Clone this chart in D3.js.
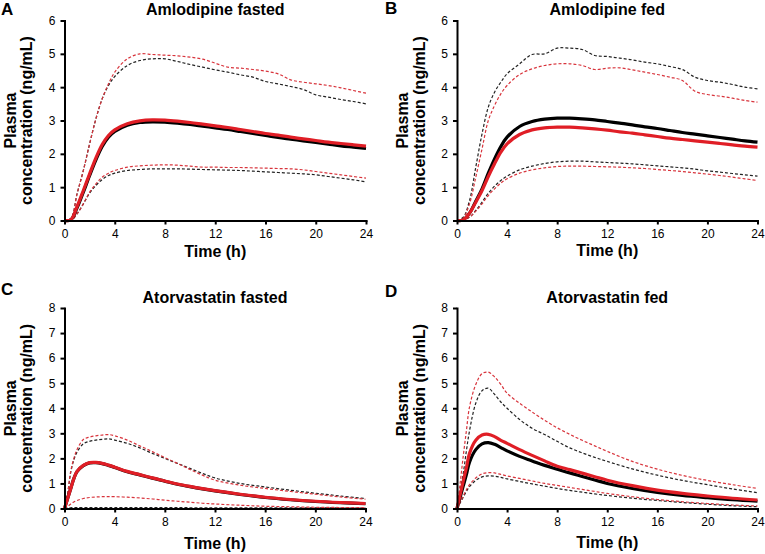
<!DOCTYPE html>
<html>
<head>
<meta charset="utf-8">
<script src="https://cdn.jsdelivr.net/npm/d3@7.9.0/dist/d3.min.js"></script>
<style>
  body { margin: 0; background: #fff; }
  svg { display: block; font-family: "Liberation Sans", Arial, sans-serif; }
</style>
</head>
<body>
<svg id="chart" width="765" height="554"></svg>
<script>
// sampling times (h)
const timeAmlo = [0, 0.5, 1, 1.5, 2, 2.5, 3, 3.5, 4, 5, 6, 7, 8, 9, 10, 11, 12, 13, 14, 15, 16, 17, 18, 19, 20, 21, 22, 23, 24];
const timeAtor = [0, 0.25, 0.5, 0.75, 1, 1.5, 2, 2.5, 3, 3.5, 4, 5, 6, 7, 8, 9, 10, 11, 12, 14, 16, 18, 20, 22, 24];

const xTicks = [0, 4, 8, 12, 16, 20, 24];
const yTicksAmlo = [0, 1, 2, 3, 4, 5, 6];
const yTicksAtor = [0, 1, 2, 3, 4, 5, 6, 7, 8];

// A: amlodipine fasted
const amloFastBlackMean = [0, 0.02, 0.38, 0.85, 1.35, 1.82, 2.22, 2.5, 2.67, 2.86, 2.94, 2.96, 2.95, 2.92, 2.88, 2.83, 2.78, 2.73, 2.67, 2.61, 2.55, 2.49, 2.44, 2.39, 2.34, 2.29, 2.24, 2.2, 2.16];
const amloFastBlackHi   = [0, 0.05, 0.8, 1.5, 2.3, 3.05, 3.65, 4.05, 4.32, 4.65, 4.8, 4.85, 4.85, 4.77, 4.68, 4.6, 4.52, 4.45, 4.37, 4.3, 4.17, 4.1, 4.02, 3.93, 3.77, 3.7, 3.63, 3.57, 3.5];
const amloFastBlackLo   = [0, 0, 0.2, 0.5, 0.82, 1.05, 1.23, 1.35, 1.42, 1.5, 1.53, 1.55, 1.55, 1.55, 1.54, 1.53, 1.52, 1.51, 1.5, 1.48, 1.46, 1.44, 1.42, 1.4, 1.37, 1.32, 1.27, 1.22, 1.16];
const amloFastRedMean   = [0, 0.02, 0.42, 0.9, 1.4, 1.88, 2.28, 2.55, 2.72, 2.9, 2.99, 3.02, 3.01, 2.98, 2.94, 2.89, 2.84, 2.79, 2.73, 2.67, 2.61, 2.56, 2.5, 2.45, 2.4, 2.35, 2.31, 2.27, 2.23];
const amloFastRedHi     = [0, 0.05, 0.8, 1.5, 2.3, 3.05, 3.65, 4.1, 4.45, 4.85, 5.0, 4.98, 4.96, 4.94, 4.9, 4.84, 4.72, 4.6, 4.57, 4.53, 4.48, 4.4, 4.22, 4.15, 4.1, 4.05, 3.98, 3.9, 3.82];
const amloFastRedLo     = [0, 0, 0.2, 0.5, 0.85, 1.1, 1.3, 1.42, 1.5, 1.6, 1.64, 1.66, 1.67, 1.66, 1.63, 1.6, 1.6, 1.59, 1.59, 1.58, 1.57, 1.56, 1.55, 1.52, 1.47, 1.42, 1.37, 1.32, 1.27];

// B: amlodipine fed
const amloFedBlackMean = [0, 0.02, 0.22, 0.58, 0.95, 1.42, 1.85, 2.22, 2.5, 2.82, 2.97, 3.04, 3.07, 3.07, 3.05, 3.02, 2.97, 2.92, 2.87, 2.81, 2.76, 2.7, 2.64, 2.59, 2.54, 2.49, 2.44, 2.39, 2.35];
const amloFedBlackHi   = [0, 0.1, 0.6, 1.6, 2.6, 3.4, 3.85, 4.15, 4.4, 4.7, 4.98, 5.0, 5.17, 5.17, 5.13, 4.95, 4.92, 4.87, 4.82, 4.75, 4.7, 4.62, 4.53, 4.3, 4.2, 4.15, 4.08, 4.0, 3.95];
const amloFedBlackLo   = [0, 0.02, 0.1, 0.3, 0.55, 0.82, 1.03, 1.2, 1.33, 1.52, 1.63, 1.71, 1.76, 1.78, 1.78, 1.76, 1.74, 1.72, 1.7, 1.67, 1.64, 1.61, 1.58, 1.54, 1.49, 1.45, 1.41, 1.37, 1.33];
const amloFedRedMean   = [0, 0.02, 0.22, 0.55, 0.9, 1.32, 1.7, 2.05, 2.3, 2.58, 2.72, 2.78, 2.8, 2.8, 2.78, 2.75, 2.71, 2.66, 2.62, 2.57, 2.52, 2.47, 2.43, 2.39, 2.35, 2.31, 2.27, 2.23, 2.2];
const amloFedRedHi     = [0, 0.08, 0.5, 1.3, 2.15, 3.0, 3.45, 3.8, 4.05, 4.38, 4.55, 4.65, 4.7, 4.7, 4.65, 4.53, 4.57, 4.58, 4.52, 4.45, 4.38, 4.3, 4.2, 3.88, 3.78, 3.73, 3.67, 3.6, 3.55];
const amloFedRedLo     = [0, 0.02, 0.1, 0.28, 0.5, 0.75, 0.95, 1.12, 1.25, 1.42, 1.52, 1.58, 1.62, 1.63, 1.63, 1.62, 1.61, 1.6, 1.58, 1.56, 1.53, 1.5, 1.47, 1.43, 1.39, 1.35, 1.3, 1.25, 1.2];

// C: atorvastatin fasted
const atorFastBlackMean = [0, 0.4, 0.8, 1.2, 1.47, 1.71, 1.82, 1.83, 1.79, 1.72, 1.64, 1.47, 1.34, 1.21, 1.09, 0.97, 0.87, 0.78, 0.7, 0.56, 0.44, 0.35, 0.28, 0.23, 0.19];
const atorFastBlackHi   = [0, 0.6, 1.45, 1.95, 2.25, 2.58, 2.68, 2.73, 2.76, 2.78, 2.73, 2.6, 2.42, 2.2, 2.0, 1.8, 1.6, 1.4, 1.22, 1.0, 0.86, 0.73, 0.61, 0.5, 0.4];
const atorFastBlackLo   = [0, 0.02, 0.03, 0.04, 0.04, 0.04, 0.04, 0.04, 0.04, 0.04, 0.04, 0.04, 0.04, 0.04, 0.04, 0.04, 0.03, 0.03, 0.03, 0.03, 0.03, 0.03, 0.03, 0.02, 0.02];
const atorFastRedMean   = [0, 0.4, 0.8, 1.2, 1.48, 1.72, 1.83, 1.84, 1.8, 1.73, 1.65, 1.48, 1.35, 1.22, 1.1, 0.98, 0.88, 0.79, 0.71, 0.57, 0.45, 0.36, 0.29, 0.24, 0.2];
const atorFastRedHi     = [0, 0.6, 1.5, 2.0, 2.35, 2.75, 2.85, 2.9, 2.93, 2.95, 2.9, 2.73, 2.5, 2.27, 2.03, 1.8, 1.56, 1.33, 1.13, 0.93, 0.8, 0.68, 0.57, 0.46, 0.37];
const atorFastRedLo     = [0, 0.08, 0.18, 0.26, 0.32, 0.4, 0.44, 0.46, 0.47, 0.47, 0.47, 0.45, 0.42, 0.38, 0.33, 0.29, 0.25, 0.21, 0.18, 0.13, 0.09, 0.07, 0.05, 0.04, 0.03];

// D: atorvastatin fed
const atorFedBlackMean = [0, 0.45, 0.9, 1.35, 1.85, 2.35, 2.58, 2.63, 2.56, 2.43, 2.3, 2.08, 1.9, 1.72, 1.57, 1.42, 1.28, 1.14, 1.0, 0.8, 0.64, 0.52, 0.43, 0.35, 0.29];
const atorFedBlackHi   = [0, 0.7, 1.4, 2.3, 3.1, 4.2, 4.7, 4.8, 4.55, 4.25, 4.0, 3.55, 3.2, 2.95, 2.68, 2.42, 2.22, 2.04, 1.88, 1.58, 1.33, 1.12, 0.95, 0.78, 0.63];
const atorFedBlackLo   = [0, 0.22, 0.45, 0.68, 0.87, 1.12, 1.26, 1.3, 1.29, 1.24, 1.18, 1.08, 0.98, 0.89, 0.8, 0.72, 0.65, 0.58, 0.52, 0.41, 0.32, 0.24, 0.17, 0.11, 0.07];
const atorFedRedMean   = [0, 0.55, 1.1, 1.62, 2.2, 2.72, 2.93, 2.96, 2.87, 2.72, 2.6, 2.35, 2.12, 1.9, 1.69, 1.55, 1.41, 1.27, 1.13, 0.91, 0.73, 0.6, 0.5, 0.41, 0.34];
const atorFedRedHi     = [0, 1.0, 2.1, 3.1, 4.05, 4.95, 5.38, 5.44, 5.25, 4.95, 4.6, 4.2, 3.85, 3.52, 3.22, 2.96, 2.72, 2.5, 2.28, 1.88, 1.57, 1.32, 1.12, 0.95, 0.8];
const atorFedRedLo     = [0, 0.25, 0.5, 0.75, 0.95, 1.22, 1.38, 1.43, 1.42, 1.36, 1.3, 1.2, 1.1, 1.0, 0.92, 0.84, 0.76, 0.68, 0.6, 0.47, 0.36, 0.27, 0.2, 0.14, 0.1];

const RED = "#e01e26";
const RED_DASH = "#d8343c";
const BLACK = "#000";
const BLACK_DASH = "#222";

function seriesSet(bm, bh, bl, rm, rh, rl) {
  return [
    { values: bh, color: BLACK_DASH, dashed: true },
    { values: bl, color: BLACK_DASH, dashed: true },
    { values: rh, color: RED_DASH, dashed: true },
    { values: rl, color: RED_DASH, dashed: true },
    { values: bm, color: BLACK, dashed: false },
    { values: rm, color: RED, dashed: false }
  ];
}

const panels = [
  { letter: "A", title: "Amlodipine fasted", time: timeAmlo, yTicks: yTicksAmlo,
    box: { left: 64.5, right: 366, top: 20.5, bottom: 220.5 }, letterY: 15, titleY: 15, xTitleY: 257,
    series: seriesSet(amloFastBlackMean, amloFastBlackHi, amloFastBlackLo, amloFastRedMean, amloFastRedHi, amloFastRedLo) },
  { letter: "B", title: "Amlodipine fed", time: timeAmlo, yTicks: yTicksAmlo,
    box: { left: 457, right: 757.5, top: 20.5, bottom: 220.5 }, letterY: 14, titleY: 15, xTitleY: 256,
    series: seriesSet(amloFedBlackMean, amloFedBlackHi, amloFedBlackLo, amloFedRedMean, amloFedRedHi, amloFedRedLo) },
  { letter: "C", title: "Atorvastatin fasted", time: timeAtor, yTicks: yTicksAtor,
    box: { left: 64.5, right: 365.5, top: 308, bottom: 508.5 }, letterY: 295, titleY: 303, xTitleY: 549,
    series: seriesSet(atorFastBlackMean, atorFastBlackHi, atorFastBlackLo, atorFastRedMean, atorFastRedHi, atorFastRedLo) },
  { letter: "D", title: "Atorvastatin fed", time: timeAtor, yTicks: yTicksAtor,
    box: { left: 457, right: 757.5, top: 308, bottom: 508.5 }, letterY: 297, titleY: 303, xTitleY: 548,
    series: seriesSet(atorFedBlackMean, atorFedBlackHi, atorFedBlackLo, atorFedRedMean, atorFedRedHi, atorFedRedLo) }
];

const svg = d3.select("#chart");

panels.forEach((p, i) => {
  const b = p.box;
  const x = d3.scaleLinear().domain([0, 24]).range([b.left, b.right]);
  const y = d3.scaleLinear().domain([0, d3.max(p.yTicks)]).range([b.bottom, b.top]);
  const g = svg.append("g");

  const line = d3.line()
    .x((d, j) => x(p.time[j]))
    .y(d => y(d))
    .curve(d3.curveCatmullRom.alpha(0.5));

  p.series.forEach(s => {
    g.append("path")
      .attr("d", line(s.values))
      .attr("fill", "none")
      .attr("stroke", s.color)
      .attr("stroke-width", s.dashed ? 1.2 : 3.2)
      .attr("stroke-dasharray", s.dashed ? "3,2" : null)
      .attr("stroke-linejoin", "round");
  });

  const xAxis = g.append("g")
    .attr("transform", `translate(0,${b.bottom})`)
    .call(d3.axisBottom(x).tickValues(xTicks).tickFormat(d3.format("d"))
      .tickSize(4).tickSizeOuter(0).tickPadding(5));
  const yAxis = g.append("g")
    .attr("transform", `translate(${b.left},0)`)
    .call(d3.axisLeft(y).tickValues(p.yTicks).tickFormat(d3.format("d"))
      .tickSize(4).tickSizeOuter(0).tickPadding(5));

  [xAxis, yAxis].forEach(a => {
    a.select(".domain").attr("stroke", "#000").attr("stroke-width", 2).attr("stroke-linecap", "square");
    a.selectAll(".tick line").attr("stroke", "#000").attr("stroke-width", 2);
    a.selectAll(".tick text").attr("fill", "#000").attr("font-size", 12)
      .attr("font-family", "'Liberation Sans', Arial, sans-serif");
  });

  const cx = (b.left + b.right) / 2;
  const cy = (b.top + b.bottom) / 2;

  svg.append("text")
    .attr("x", i % 2 === 0 ? 1 : 385)
    .attr("y", p.letterY)
    .attr("font-size", 17).attr("font-weight", "bold")
    .text(p.letter);

  svg.append("text")
    .attr("x", cx).attr("y", p.titleY)
    .attr("text-anchor", "middle")
    .attr("font-size", 16).attr("font-weight", "bold")
    .text(p.title);

  svg.append("text")
    .attr("x", cx).attr("y", p.xTitleY)
    .attr("text-anchor", "middle")
    .attr("font-size", 16).attr("font-weight", "bold")
    .text("Time (h)");

  const yt = svg.append("text")
    .attr("transform", `translate(${b.left - 49},${cy}) rotate(-90)`)
    .attr("text-anchor", "middle")
    .attr("font-size", 16).attr("font-weight", "bold");
  yt.append("tspan").attr("x", 0).attr("y", 0).text("Plasma");
  yt.append("tspan").attr("x", 0).attr("y", 16.5).text("concentration (ng/mL)");
});
</script>
</body>
</html>
